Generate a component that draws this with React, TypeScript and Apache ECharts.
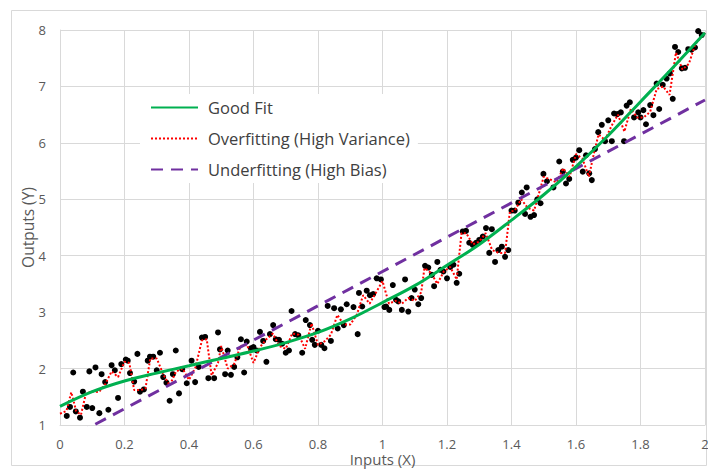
import React, { useEffect, useRef } from "react";
import * as echarts from "echarts";

// Noisy observations (input, output)
const observations: [number, number][] = [
  [0.021, 1.16], [0.031, 1.32], [0.041, 1.93], [0.049, 1.24], [0.062, 1.13], [0.071, 1.59],
  [0.083, 1.32], [0.091, 1.95], [0.1, 1.3], [0.11, 2.02], [0.122, 1.21], [0.129, 1.9],
  [0.14, 1.76], [0.15, 1.27], [0.16, 2.06], [0.17, 1.97], [0.18, 1.48], [0.19, 2.08],
  [0.204, 2.16], [0.21, 2.14], [0.217, 1.92], [0.23, 1.77], [0.24, 2.26], [0.248, 1.59],
  [0.26, 1.63], [0.272, 2.14], [0.279, 2.21], [0.289, 2.21], [0.3, 1.97], [0.31, 2.28],
  [0.32, 1.85], [0.33, 1.75], [0.34, 1.43], [0.35, 1.9], [0.359, 2.32], [0.369, 1.56],
  [0.379, 1.99], [0.393, 1.74], [0.408, 2.14], [0.419, 1.76], [0.43, 2.03], [0.44, 2.55],
  [0.45, 2.56], [0.46, 1.83], [0.478, 1.83], [0.49, 2.64], [0.496, 2.34], [0.512, 1.9],
  [0.52, 2.32], [0.53, 1.89], [0.54, 2.03], [0.55, 2.2], [0.561, 2.52], [0.571, 1.93],
  [0.579, 2.48], [0.592, 2.36], [0.6, 2.38], [0.61, 2.32], [0.62, 2.65], [0.63, 2.49],
  [0.64, 2.12], [0.651, 2.61], [0.661, 2.77], [0.669, 2.52], [0.679, 2.51], [0.689, 2.44],
  [0.7, 2.28], [0.71, 2.32], [0.718, 3.02], [0.729, 2.61], [0.739, 2.59], [0.751, 2.28],
  [0.762, 2.86], [0.775, 2.77], [0.782, 2.51], [0.79, 2.42], [0.8, 2.67], [0.81, 2.42],
  [0.82, 2.36], [0.83, 3.11], [0.84, 2.49], [0.85, 3.07], [0.861, 2.71], [0.871, 3.05],
  [0.88, 2.77], [0.889, 3.14], [0.91, 3.09], [0.923, 2.61], [0.927, 3.34], [0.937, 3.1],
  [0.951, 3.38], [0.961, 3.3], [0.971, 3.32], [0.982, 3.6], [0.995, 3.58], [1.006, 3.09],
  [1.011, 3.1], [1.021, 3.04], [1.032, 3.48], [1.042, 3.22], [1.049, 3.19], [1.06, 3.04],
  [1.07, 3.58], [1.08, 3.01], [1.09, 3.25], [1.1, 3.4], [1.111, 3.14], [1.12, 3.25],
  [1.132, 3.82], [1.142, 3.79], [1.153, 3.66], [1.16, 3.46], [1.17, 3.89], [1.18, 3.75],
  [1.189, 3.72], [1.2, 3.6], [1.21, 3.8], [1.22, 3.84], [1.23, 3.52], [1.238, 3.68],
  [1.249, 4.43], [1.259, 4.44], [1.269, 4.23], [1.28, 4.19], [1.29, 4.23], [1.3, 4.28],
  [1.311, 4.34], [1.321, 4.49], [1.331, 4.05], [1.339, 4.47], [1.349, 3.89], [1.359, 4.1],
  [1.37, 4.16], [1.38, 3.98], [1.39, 4.1], [1.4, 4.8], [1.41, 4.8], [1.421, 4.94],
  [1.432, 5.12], [1.442, 4.74], [1.447, 5.21], [1.459, 4.69], [1.47, 4.72], [1.48, 5.0],
  [1.49, 4.93], [1.499, 5.45], [1.51, 5.32], [1.53, 5.21], [1.548, 5.67], [1.559, 5.49],
  [1.569, 5.28], [1.579, 5.36], [1.59, 5.7], [1.6, 5.74], [1.61, 5.87], [1.621, 5.49],
  [1.631, 5.78], [1.641, 5.46], [1.649, 5.34], [1.659, 5.89], [1.669, 6.19], [1.68, 6.32],
  [1.69, 6.03], [1.7, 6.4], [1.711, 6.03], [1.718, 6.52], [1.728, 6.51], [1.739, 6.54],
  [1.749, 6.03], [1.757, 6.66], [1.767, 6.72], [1.78, 6.45], [1.793, 6.54], [1.8, 6.45],
  [1.809, 6.58], [1.817, 6.33], [1.83, 6.67], [1.84, 6.49], [1.85, 7.05], [1.858, 6.6],
  [1.869, 7.03], [1.881, 7.14], [1.891, 7.23], [1.9, 6.78], [1.907, 7.7], [1.917, 7.61],
  [1.928, 7.32], [1.938, 7.33], [1.948, 7.66], [1.958, 7.65], [1.969, 7.69], [1.979, 7.98],
  [1.99, 7.91],
];

// Smooth well-fitted curve
const goodFitX = [0, 0.1, 0.2, 0.3, 0.4, 0.5, 0.6, 0.7, 0.8, 0.9, 1.0, 1.1, 1.2, 1.3, 1.4, 1.5, 1.6, 1.7, 1.8, 1.9, 2.0];
const goodFitY = [1.33, 1.59, 1.78, 1.92, 2.05, 2.18, 2.31, 2.46, 2.64, 2.88, 3.17, 3.47, 3.83, 4.2, 4.63, 5.08, 5.58, 6.13, 6.73, 7.33, 7.95];

// Over-fitted curve chasing the noise
const overfitX = [
  0, 0.02, 0.035, 0.05, 0.065, 0.08, 0.1, 0.12, 0.14, 0.16, 0.18, 0.2, 0.215, 0.23, 0.25, 0.265,
  0.28, 0.3, 0.32, 0.34, 0.36, 0.38, 0.4, 0.42, 0.44, 0.455, 0.47, 0.49, 0.5, 0.52, 0.54, 0.56,
  0.58, 0.6, 0.62, 0.64, 0.66, 0.68, 0.7, 0.72, 0.74, 0.76, 0.78, 0.8, 0.82, 0.84, 0.86, 0.88,
  0.9, 0.92, 0.94, 0.96, 0.98, 1.0, 1.02, 1.04, 1.06, 1.08, 1.1, 1.12, 1.13, 1.15, 1.17, 1.19,
  1.21, 1.23, 1.245, 1.26, 1.28, 1.3, 1.32, 1.34, 1.36, 1.38, 1.395, 1.41, 1.43, 1.45, 1.47, 1.49,
  1.5, 1.52, 1.54, 1.56, 1.58, 1.6, 1.62, 1.64, 1.655, 1.67, 1.69, 1.71, 1.73, 1.75, 1.77, 1.79,
  1.81, 1.83, 1.85, 1.87, 1.89, 1.91, 1.93, 1.95, 1.97, 2.0,
];
const overfitY = [
  1.2, 1.25, 1.58, 1.25, 1.18, 1.55, 1.6, 1.58, 1.72, 1.95, 1.85, 2.12, 2.1, 1.62, 1.62, 1.65,
  2.18, 2.18, 1.9, 1.7, 1.95, 2.0, 1.8, 2.02, 2.5, 2.52, 1.88, 2.1, 2.4, 2.0, 2.08, 2.4,
  2.42, 2.1, 2.38, 2.52, 2.62, 2.4, 2.35, 2.62, 2.6, 2.35, 2.8, 2.42, 2.48, 2.6, 2.95, 2.78,
  2.78, 2.95, 3.3, 3.15, 3.35, 3.55, 3.15, 3.2, 3.15, 3.25, 3.2, 3.35, 3.78, 3.7, 3.5, 3.72,
  3.8, 3.58, 4.4, 4.4, 4.2, 4.25, 4.4, 4.1, 4.05, 4.05, 4.78, 4.8, 5.0, 4.85, 4.8, 5.2,
  5.4, 5.35, 5.3, 5.55, 5.4, 5.8, 5.72, 5.4, 5.8, 6.15, 6.05, 6.3, 6.5, 6.2, 6.6, 6.45,
  6.45, 6.55, 6.95, 7.0, 6.85, 7.6, 7.3, 7.4, 7.75, 7.95,
];

// Under-fitted straight line (end points)
const underfitX = [0, 2];
const underfitY = [0.68, 6.76];

const xTicks = ["0", "0.2", "0.4", "0.6", "0.8", "1", "1.2", "1.4", "1.6", "1.8", "2"];

const FONT = "'Open Sans', 'Noto Sans', sans-serif";
const TEXT = "#595959";
const GRID = "#d9d9d9";

const zip = (xs: number[], ys: number[]) => xs.map((x, i) => [x, ys[i]]);

export default function App() {
  const ref = useRef<HTMLDivElement>(null);

  useEffect(() => {
    if (!ref.current) return;
    const chart = echarts.init(ref.current, undefined, { renderer: "svg" });
    chart.setOption({
      animation: false,
      backgroundColor: "#ffffff",
      textStyle: { fontFamily: FONT },
      grid: { left: 60, right: 3, top: 30, bottom: 45, containLabel: false, outerBoundsMode: "none" },
      graphic: [
        {
          type: "rect",
          shape: { x: 11.5, y: 10.5, width: 695, height: 455 },
          style: { fill: "none", stroke: GRID, lineWidth: 1 },
          silent: true,
          z: -10,
        },
      ],
      legend: {
        orient: "vertical",
        left: 140,
        top: 94,
        data: ["Good Fit", "Overfitting (High Variance)", "Underfitting (High Bias)"],
        itemWidth: 47,
        itemHeight: 18,
        itemGap: 14,
        backgroundColor: "#ffffff",
        padding: [5, 8, 5, 10],
        itemStyle: { opacity: 0 },
        textStyle: { fontFamily: FONT, fontSize: 16.5, color: "#404040", padding: [0, 0, 0, 5] },
        z: 10,
      },
      xAxis: {
        type: "value",
        min: 0,
        max: 2,
        interval: 0.2,
        name: "Inputs (X)",
        nameLocation: "middle",
        nameMoveOverlap: false,
        nameGap: 25,
        nameTextStyle: { fontFamily: FONT, fontSize: 15, lineHeight: 17, color: TEXT },
        axisLine: { show: true, lineStyle: { color: GRID, width: 1 } },
        axisTick: { show: false },
        axisLabel: {
          color: TEXT,
          fontFamily: FONT,
          fontSize: 13,
          margin: 12,
          formatter: (v: number) => xTicks[Math.round(v / 0.2)] ?? String(v),
        },
        splitLine: { show: true, lineStyle: { color: GRID, width: 1 } },
      },
      yAxis: {
        type: "value",
        min: 1,
        max: 8,
        interval: 1,
        name: "Outputs (Y)",
        nameLocation: "middle",
        nameMoveOverlap: false,
        nameGap: 24,
        nameTextStyle: { fontFamily: FONT, fontSize: 15.5, color: TEXT },
        axisLine: { show: true, lineStyle: { color: GRID, width: 1 } },
        axisTick: { show: false },
        axisLabel: { color: TEXT, fontFamily: FONT, fontSize: 13, margin: 14 },
        splitLine: { show: true, lineStyle: { color: GRID, width: 1 } },
      },
      series: [
        {
          name: "Data",
          type: "scatter",
          data: observations,
          symbol: "circle",
          symbolSize: 6,
          itemStyle: { color: "#000000", opacity: 1 },
          z: 2,
        },
        {
          name: "Overfitting (High Variance)",
          type: "line",
          data: zip(overfitX, overfitY),
          showSymbol: false,
          symbol: "none",
          clip: true,
          lineStyle: { color: "#ff0000", width: 2, type: [2, 2] },
          itemStyle: { color: "#ff0000" },
          z: 3,
        },
        {
          name: "Underfitting (High Bias)",
          type: "line",
          data: zip(underfitX, underfitY),
          showSymbol: false,
          symbol: "none",
          clip: true,
          lineStyle: { color: "#7030a0", width: 3, type: [12, 8] },
          itemStyle: { color: "#7030a0" },
          z: 4,
        },
        {
          name: "Good Fit",
          type: "line",
          data: zip(goodFitX, goodFitY),
          smooth: 0.35,
          showSymbol: false,
          symbol: "none",
          clip: true,
          lineStyle: { color: "#00b050", width: 3 },
          itemStyle: { color: "#00b050" },
          z: 5,
        },
      ],
    });
    return () => chart.dispose();
  }, []);

  return (
    <div
      ref={ref}
      style={{ position: "fixed", left: 0, top: 0, width: 708, height: 470, background: "#fff" }}
    />
  );
}
